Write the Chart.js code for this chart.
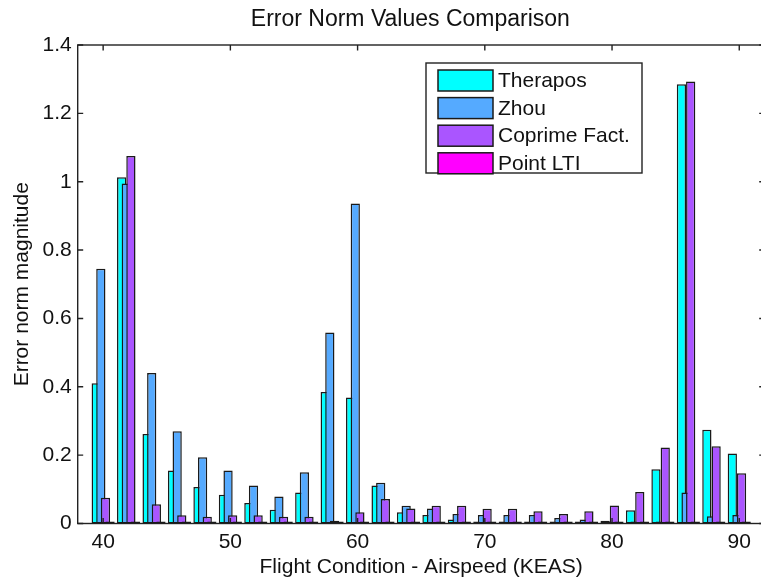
<!DOCTYPE html>
<html>
<head>
<meta charset="utf-8">
<style>
html, body { margin: 0; padding: 0; background: #fff; width: 761px; height: 580px; overflow: hidden; }
#wrap { position: absolute; left: 0; top: 0; width: 770px; height: 580px; }
</style>
<script src="https://cdn.jsdelivr.net/npm/chart.js@4/dist/chart.umd.min.js"></script>
</head>
<body>
<div id="wrap"><canvas id="c" width="770" height="580"></canvas></div>
<script>
// ---- data ----
const airspeed = [40, 42, 44, 46, 48, 50, 52, 54, 56, 58, 60, 62, 64, 66, 68, 70, 72, 74, 76, 78, 80, 82, 84, 86, 88, 90];
const therapos = [0.410, 1.013, 0.262, 0.155, 0.107, 0.084, 0.060, 0.040, 0.091, 0.385, 0.369, 0.111, 0.033, 0.025, 0.012, 0.005, 0.005, 0.002, 0.002, 0.002, 0.008, 0.039, 0.159, 1.285, 0.274, 0.205];
const zhou     = [0.745, 0.995, 0.440, 0.270, 0.194, 0.155, 0.111, 0.079, 0.150, 0.559, 0.936, 0.119, 0.052, 0.044, 0.028, 0.025, 0.025, 0.025, 0.016, 0.012, 0.006, 0.002, 0.002, 0.091, 0.021, 0.025];
const coprime  = [0.075, 1.075, 0.056, 0.024, 0.020, 0.024, 0.024, 0.020, 0.020, 0.008, 0.033, 0.072, 0.044, 0.052, 0.052, 0.043, 0.043, 0.036, 0.028, 0.036, 0.053, 0.092, 0.222, 1.293, 0.226, 0.147];
const pointLTI = [0, 0, 0, 0, 0, 0, 0, 0, 0, 0, 0, 0, 0, 0, 0, 0, 0, 0, 0, 0, 0, 0, 0, 0, 0, 0];
const seriesNames = ['Therapos', 'Zhou', 'Coprime Fact.', 'Point LTI'];
const xTicks = [40, 50, 60, 70, 80, 90];
const yTicks = [0, 0.2, 0.4, 0.6, 0.8, 1, 1.2, 1.4];

// ---- styling ----
const seriesColors = ['#00FFFF', '#55AAFF', '#AA55FF', '#FF00FF'];
const FONT = 'Liberation Sans, Arial, Helvetica, sans-serif';
const TEXT = '#111';
const EDGE = '#1a1a1a';
const allSeries = [therapos, zhou, coprime, pointLTI];
const nSeries = allSeries.length;
// MATLAB-style grouping: group width = n/(n+1.5) of spacing
const spacing = airspeed[1] - airspeed[0];
const slot = spacing * (nSeries / (nSeries + 1.5)) / nSeries;

Chart.defaults.font.family = FONT;
Chart.defaults.color = TEXT;

const datasets = allSeries.map((vals, k) => ({
  label: seriesNames[k],
  data: airspeed.map((a, i) => ({ x: a + (k - (nSeries - 1) / 2) * slot, y: vals[i] })),
  backgroundColor: seriesColors[k],
  borderColor: EDGE,
  borderWidth: 1.5,
  borderSkipped: false,
  grouped: false,
  categoryPercentage: 1,
  barPercentage: 2,
  minBarLength: 2,
  order: nSeries - k
}));

const boxPlugin = {
  id: 'matlabBox',
  afterLayout(chart) {
    const t = chart.titleBlock;
    if (t) { t.left += 28; t.right += 28; }
  },
  afterDatasetsDraw(chart) {
    const { ctx, chartArea: a, scales: { x, y } } = chart;
    ctx.save();
    ctx.strokeStyle = '#222';
    ctx.lineWidth = 1.4;
    ctx.strokeRect(a.left, a.top, a.right - a.left, a.bottom - a.top);
    const tl = 5.5;
    ctx.beginPath();
    xTicks.forEach(v => {
      const px = x.getPixelForValue(v);
      ctx.moveTo(px, a.bottom); ctx.lineTo(px, a.bottom - tl);
      ctx.moveTo(px, a.top); ctx.lineTo(px, a.top + tl);
    });
    yTicks.forEach(v => {
      const py = y.getPixelForValue(v);
      ctx.moveTo(a.left, py); ctx.lineTo(a.left + tl, py);
      ctx.moveTo(a.right, py); ctx.lineTo(a.right - tl, py);
    });
    ctx.stroke();
    ctx.restore();
  },
  afterDraw(chart) {
    const { ctx } = chart;
    ctx.save();
    const bx = 426, by = 63, bw = 216, bh = 110;
    ctx.fillStyle = '#fff';
    ctx.fillRect(bx, by, bw, bh);
    ctx.strokeStyle = '#222';
    ctx.lineWidth = 1.4;
    ctx.strokeRect(bx, by, bw, bh);
    ctx.font = '21px ' + FONT;
    ctx.textBaseline = 'middle';
    ctx.textAlign = 'left';
    chart.data.datasets.forEach((ds, i) => {
      const cy = 80.5 + i * 27.6;
      ctx.fillStyle = ds.backgroundColor;
      ctx.fillRect(438, cy - 10.5, 55, 21);
      ctx.strokeStyle = EDGE;
      ctx.lineWidth = 1.5;
      ctx.strokeRect(438, cy - 10.5, 55, 21);
      ctx.fillStyle = TEXT;
      ctx.fillText(ds.label, 498, cy + 1);
    });
    ctx.restore();
  }
};

new Chart(document.getElementById('c'), {
  type: 'bar',
  data: { datasets },
  options: {
    responsive: false,
    animation: false,
    layout: { padding: { left: 0, right: 5.3, top: 0, bottom: 0 } },
    scales: {
      x: {
        type: 'linear',
        min: 38, max: 92,
        offset: false,
        grid: { display: false, drawTicks: false },
        border: { display: false },
        afterBuildTicks: s => { s.ticks = xTicks.map(v => ({ value: v })); },
        afterFit: s => { s.height = 56.5; },
        ticks: { font: { size: 21 }, color: TEXT, padding: 6, maxRotation: 0, autoSkip: false, callback: v => String(v) },
        title: { display: true, text: 'Flight Condition - Airspeed (KEAS)', font: { size: 21 }, color: TEXT, padding: { top: 0, bottom: 0 } }
      },
      y: {
        min: 0, max: 1.4,
        grid: { display: false, drawTicks: false },
        border: { display: false },
        afterBuildTicks: s => { s.ticks = yTicks.map(v => ({ value: v })); },
        afterFit: s => { s.width = 77.7; },
        ticks: { font: { size: 21 }, color: TEXT, padding: 6, autoSkip: false, callback: v => String(v) },
        title: { display: true, text: 'Error norm magnitude', font: { size: 21 }, color: TEXT, padding: { top: 10, bottom: 0 } }
      }
    },
    plugins: {
      legend: { display: false },
      tooltip: { enabled: false },
      title: { display: true, text: 'Error Norm Values Comparison', font: { size: 23, weight: 'normal' }, color: TEXT, padding: { top: 6, bottom: 11.4 } }
    }
  },
  plugins: [boxPlugin]
});
</script>
</body>
</html>
